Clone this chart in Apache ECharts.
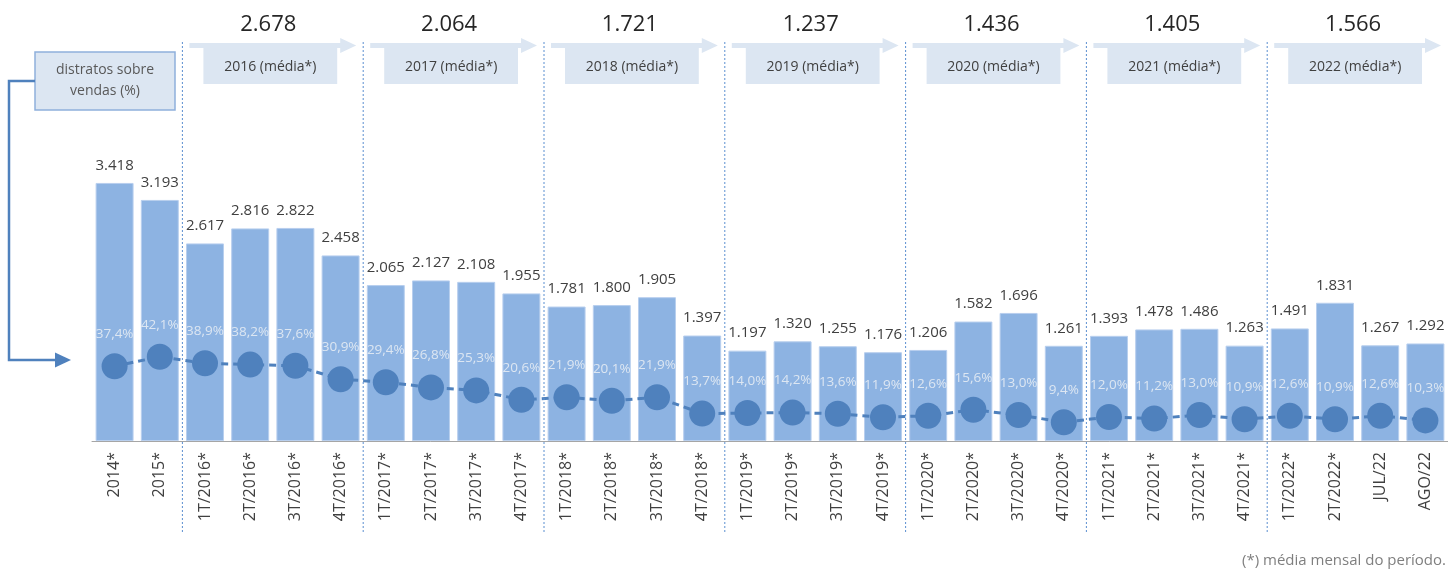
<!DOCTYPE html>
<html>
<head>
<meta charset="utf-8">
<script src="https://cdn.jsdelivr.net/npm/echarts@6/dist/echarts.min.js"></script>
<style>
  html, body { margin: 0; padding: 0; background: #fff; }
  #chart { width: 1448px; height: 573px; }
</style>
</head>
<body>
<div id="chart"></div>
<script>
// categorias do eixo x
var categorias = ['2014*', '2015*',
  '1T/2016*', '2T/2016*', '3T/2016*', '4T/2016*',
  '1T/2017*', '2T/2017*', '3T/2017*', '4T/2017*',
  '1T/2018*', '2T/2018*', '3T/2018*', '4T/2018*',
  '1T/2019*', '2T/2019*', '3T/2019*', '4T/2019*',
  '1T/2020*', '2T/2020*', '3T/2020*', '4T/2020*',
  '1T/2021*', '2T/2021*', '3T/2021*', '4T/2021*',
  '1T/2022*', '2T/2022*', 'JUL/22', 'AGO/22'];

// distratos (unidades)
var distratos = [3418, 3193, 2617, 2816, 2822, 2458, 2065, 2127, 2108, 1955,
  1781, 1800, 1905, 1397, 1197, 1320, 1255, 1176, 1206, 1582,
  1696, 1261, 1393, 1478, 1486, 1263, 1491, 1831, 1267, 1292];

// distratos sobre vendas (%)
var percentual = [37.4, 42.1, 38.9, 38.2, 37.6, 30.9, 29.4, 26.8, 25.3, 20.6,
  21.9, 20.1, 21.9, 13.7, 14.0, 14.2, 13.6, 11.9, 12.6, 15.6,
  13.0, 9.4, 12.0, 11.2, 13.0, 10.9, 12.6, 10.9, 12.6, 10.3];

// periodos anuais: indice inicial, indice final (exclusivo)
var periodoInicio = [2, 6, 10, 14, 18, 22, 26];
var periodoFim = [6, 10, 14, 18, 22, 26, 30];
var periodoNome = ['2016 (média*)', '2017 (média*)', '2018 (média*)', '2019 (média*)',
  '2020 (média*)', '2021 (média*)', '2022 (média*)'];
var periodoMedia = [2678, 2064, 1721, 1237, 1436, 1405, 1566];

var fonte = '"Open Sans", "Noto Sans", sans-serif';
function milhar(v) { return String(v).replace(/\B(?=(\d{3})+(?!\d))/g, '.'); }

var periodos = periodoInicio.map(function (s, i) {
  return [s, 0, periodoFim[i], i];
});

var myChart = echarts.init(document.getElementById('chart'));
var option = {
  animation: false,
  textStyle: { fontFamily: fonte },
  grid: { left: 92, right: 0, top: 139, bottom: 132 },
  xAxis: [
    {
      type: 'category',
      data: categorias,
      axisLine: { lineStyle: { color: '#a6a6a6', width: 1 } },
      axisTick: { lineStyle: { color: '#a6a6a6' }, length: 6 },
      axisLabel: { rotate: 90, fontSize: 16, color: '#404040', margin: 11, fontFamily: fonte }
    },
    {
      type: 'category',
      data: categorias,
      position: 'bottom',
      axisLine: { show: false },
      axisTick: { inside: true, length: 7, lineStyle: { color: '#a6a6a6' } },
      axisLabel: { show: false }
    }
  ],
  yAxis: [
    { type: 'value', min: 0, max: 4000, show: false, splitLine: { show: false } },
    { type: 'value', min: 0, max: 151, show: false, splitLine: { show: false } }
  ],
  series: [
    {
      type: 'bar',
      data: distratos,
      barWidth: '84%',
      itemStyle: { color: '#8db3e2', borderColor: '#b8cfee', borderWidth: 1 },
      label: {
        show: true, position: 'top', distance: 10,
        fontSize: 15, color: '#404040', fontFamily: fonte,
        formatter: function (p) { return milhar(p.value); }
      },
      z: 1
    },
    {
      type: 'line',
      yAxisIndex: 1,
      data: percentual,
      symbol: 'circle',
      symbolSize: 26,
      itemStyle: { color: '#4f81bd' },
      lineStyle: { color: '#4f81bd', width: 3, type: [7, 5] },
      label: {
        show: true, position: 'top', distance: 12,
        fontSize: 13.5, color: '#dce6f2', fontFamily: fonte,
        formatter: function (p) { return p.value.toFixed(1).replace('.', ',') + '%'; }
      },
      z: 3
    },
    {
      type: 'custom',
      data: periodos,
      encode: { x: 0, y: 1 },
      clip: false,
      z: 4,
      silent: true,
      renderItem: function (params, api) {
        var bw = api.size([1, 0])[0];
        var x0 = api.coord([api.value(0), 0])[0] - bw / 2;
        var x1 = api.coord([api.value(2) - 1, 0])[0] + bw / 2;
        var i = api.value(3);
        var bx0 = x0 + 21, bx1 = x1 - 26;
        var cx = (bx0 + bx1) / 2;
        return {
          type: 'group',
          children: [
            { type: 'line', shape: { x1: x0, y1: 42, x2: x0, y2: 533 },
              style: { stroke: '#5b8fd0', lineWidth: 1, lineDash: [2, 2] } },
            { type: 'polygon',
              shape: { points: [[x0 + 7, 43], [x1 - 23, 43], [x1 - 23, 38], [x1 - 7, 45.5],
                [x1 - 23, 53], [x1 - 23, 48], [x0 + 7, 48]] },
              style: { fill: '#dce6f2' } },
            { type: 'rect', shape: { x: bx0, y: 47, width: bx1 - bx0, height: 37 },
              style: { fill: '#dce6f2' } },
            { type: 'text',
              style: { text: periodoNome[i], x: cx, y: 67, align: 'center', verticalAlign: 'middle',
                font: '14px ' + fonte, fill: '#404040' } },
            { type: 'text',
              style: { text: milhar(periodoMedia[i]), x: cx - 2, y: 25, align: 'center', verticalAlign: 'middle',
                font: '22px ' + fonte, fill: '#262626' } }
          ]
        };
      }
    }
  ],
  graphic: [
    { type: 'rect', shape: { x: 35, y: 52, width: 140, height: 58 },
      style: { fill: '#dce6f2', stroke: '#8eb0dc', lineWidth: 1.5 } },
    { type: 'text', style: { text: 'distratos sobre\nvendas (%)', x: 105, y: 81, align: 'center',
      verticalAlign: 'middle', font: '14px ' + fonte, fill: '#595959', lineHeight: 21 } },
    { type: 'polyline', shape: { points: [[35, 81], [9, 81], [9, 360], [56, 360]] },
      style: { stroke: '#4f81bd', lineWidth: 2.5, fill: null } },
    { type: 'polygon', shape: { points: [[55, 352.5], [71, 360], [55, 367.5]] },
      style: { fill: '#4f81bd' } },
    { type: 'text', style: { text: '(*) média mensal do período.', x: 1446, y: 561, align: 'right',
      verticalAlign: 'middle', font: '15px ' + fonte, fill: '#7f7f7f' } }
  ]
};
myChart.setOption(option);
</script>
</body>
</html>
